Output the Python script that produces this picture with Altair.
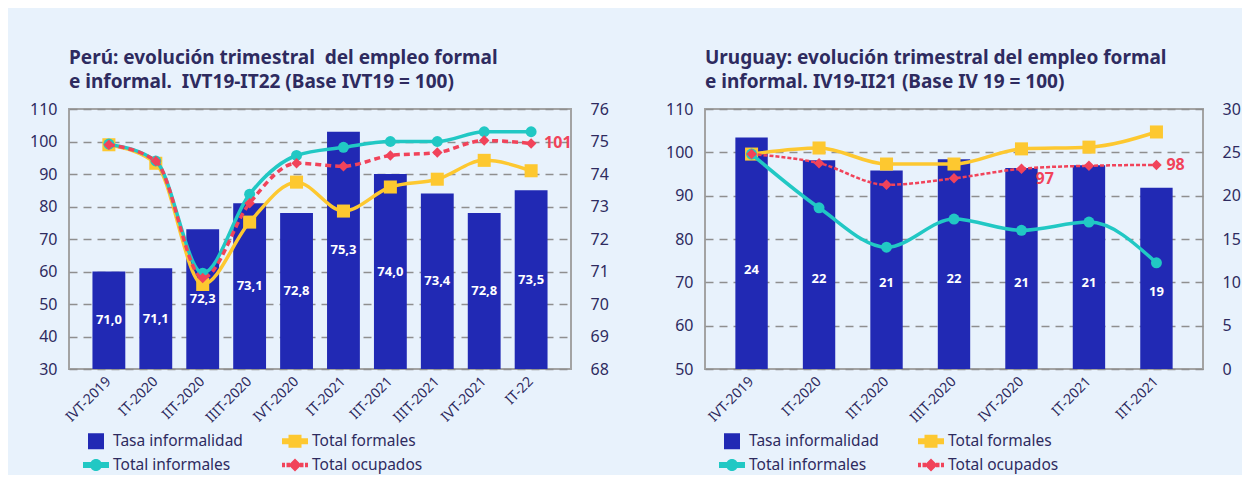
import altair as alt
import pandas as pd

FONT = "Noto Sans"
NAVY = "#2e2b5f"
BLUE = "#2129b4"
YELLOW = "#fdc830"
CYAN = "#21c8c4"
RED = "#f1435a"
BG = "#e8f2fc"
PLOT_BG = "#f4f9fe"
NB = "\u00a0"

series = ["Tasa informalidad", "Total formales", "Total informales", "Total ocupados"]
series_colors = [BLUE, YELLOW, CYAN, RED]
legend_paths = [
    "M-0.8,-0.8H0.8V0.8H-0.8Z",
    "M-1.3,-0.3H1.3V0.3H-1.3Z M-0.65,-0.65H0.65V0.65H-0.65Z",
    "M-1.3,-0.3H1.3V0.3H-1.3Z M0.6,0A0.6,0.6,0,1,1,-0.6,0A0.6,0.6,0,1,1,0.6,0Z",
    "M-1.3,-0.22H-1.0V0.22H-1.3Z M-0.85,-0.22H-0.5V0.22H-0.85Z M0.5,-0.22H0.85V0.22H0.5Z M1.0,-0.22H1.3V0.22H1.0Z M0,-0.65L0.65,0L0,0.65L-0.65,0Z",
]

# ---------------- Perú ----------------
pe_title = ["Perú: evolución trimestral" + NB + " del empleo formal",
            "e informal." + NB + " IVT19-IT22 (Base IVT19 = 100)"]
pe_cats = ["IVT-2019", "IT-2020", "IIT-2020", "IIIT-2020", "IVT-2020",
           "IT-2021", "IIT-2021", "IIIT-2021", "IVT-2021", "IT-22"]
pe_tasa = [71.0, 71.1, 72.3, 73.1, 72.8, 75.3, 74.0, 73.4, 72.8, 73.5]
pe_formales = [99.0, 93.3, 56.0, 75.2, 87.5, 78.6, 86.0, 88.4, 94.2, 91.0]
pe_informales = [99.2, 94.0, 59.5, 83.8, 95.7, 98.2, 100.0, 100.0, 103.0, 103.0]
pe_ocupados = [99.0, 94.0, 58.0, 81.0, 93.3, 92.4, 95.7, 96.6, 100.3, 99.4]
pe_note_cat = ["IT-22"]
pe_note_text = ["101"]

# ---------------- Uruguay ----------------
uy_title = ["Uruguay: evolución trimestral del empleo formal",
            "e informal. IV19-II21 (Base IV 19 = 100)"]
uy_cats = ["IVT-2019", "IT-2020", "IIT-2020", "IIIT-2020", "IVT-2020", "IT-2021", "IIT-2021"]
uy_tasa_bar = [26.7, 24.1, 22.9, 24.2, 23.2, 23.5, 20.9]
uy_tasa_label = [24, 22, 21, 22, 21, 21, 19]
uy_formales = [99.6, 101.0, 97.3, 97.3, 100.8, 101.2, 104.7]
uy_informales = [99.6, 87.2, 78.1, 84.6, 82.0, 83.9, 74.5]
uy_ocupados = [99.6, 97.5, 92.5, 94.0, 96.2, 96.9, 97.1]
uy_note_cat = ["IVT-2020", "IIT-2021"]
uy_note_text = ["97", "98"]


def xenc(cats, pin, pout):
    return alt.X("cat:N", sort=cats,
                 scale=alt.Scale(paddingInner=pin, paddingOuter=pout),
                 axis=alt.Axis(title=None, labelAngle=-45, labelAlign="right",
                               labelBaseline="middle", labelFontSize=14,
                               labelPadding=10, labelFont=FONT, labelColor=NAVY,
                               labelOverlap=False, domain=False, ticks=False))


def legend_layer():
    leg = alt.Legend(title=None, orient="none", legendX=17, legendY=322, columns=2,
                     direction="horizontal",
                     columnPadding=39, rowPadding=5, symbolSize=400, symbolStrokeWidth=0,
                     symbolOpacity=1, labelFont=FONT, labelFontSize=15.5, labelColor=NAVY,
                     labelOffset=7, padding=0, symbolLimit=0)
    df = pd.DataFrame({"serie": series})
    return alt.Chart(df).mark_point(filled=True, opacity=0).encode(
        color=alt.Color("serie:N", sort=series,
                        scale=alt.Scale(domain=series, range=series_colors), legend=leg),
        shape=alt.Shape("serie:N", sort=series,
                        scale=alt.Scale(domain=series, range=legend_paths), legend=leg),
    )


def panel(title, cats, df, notes, right_dom, right_vals, left_dom, left_vals,
          pin, pout, width, label_calc, label_pos_calc, red_width, red_dash, note_offsets):
    X = xenc(cats, pin, pout)
    yr = alt.Scale(domain=right_dom, nice=False, zero=False)
    bars = alt.Chart(df).mark_bar(color=BLUE).encode(
        x=X,
        y=alt.Y("tasa_bar:Q", scale=yr,
                axis=alt.Axis(orient="right", values=right_vals, tickCount=len(right_vals),
                              labelOverlap=False, title=None, grid=False,
                              labelFontSize=16, labelPadding=19, labelFont=FONT,
                              labelColor=NAVY, domain=False, ticks=False)),
        y2=alt.datum(right_dom[0]),
    )
    bar_text = alt.Chart(df).transform_calculate(
        lbl=label_calc, lpos=label_pos_calc
    ).mark_text(color="white", font=FONT, fontWeight="bold", fontSize=13,
                baseline="middle").encode(
        x=X, y=alt.Y("lpos:Q", scale=yr), text="lbl:N")
    right = alt.layer(bars, bar_text)

    yl = alt.Scale(domain=left_dom, nice=False, zero=False)
    yaxis = alt.Axis(orient="left", values=left_vals, tickCount=len(left_vals),
                     labelOverlap=False, title=None, grid=True,
                     gridDash=[8, 6], gridColor="#8f8f8f", gridWidth=1.5,
                     labelFontSize=16, labelPadding=12, labelFont=FONT,
                     labelColor=NAVY, domain=False, ticks=False)

    def line(field, color, shape, size, width_, dash=None):
        kw = dict(color=color, strokeWidth=width_, interpolate="monotone",
                  point=alt.OverlayMarkDef(filled=True, shape=shape, size=size,
                                           color=color, opacity=1))
        if dash:
            kw["strokeDash"] = dash
        return alt.Chart(df).mark_line(**kw).encode(
            x=X, y=alt.Y(f"{field}:Q", scale=yl, axis=yaxis))

    yel = line("formales", YELLOW, "square", 170, 3.5)
    cya = line("informales", CYAN, "circle", 120, 3.5)
    red = line("ocupados", RED, "diamond", 110, red_width, red_dash)

    note_layers = []
    for i, (dx, dy) in enumerate(note_offsets):
        nd = notes.iloc[[i]]
        note_layers.append(
            alt.Chart(nd).mark_text(color=RED, font=FONT, fontWeight="bold", fontSize=16,
                                    align="left", baseline="middle", dx=dx, dy=dy).encode(
                x=X, y=alt.Y("value:Q", scale=yl), text="text:N"))

    left = alt.layer(yel, cya, red, *note_layers, legend_layer())

    return alt.layer(right, left).resolve_scale(y="independent").properties(
        width=width, height=260,
        title=alt.TitleParams(text=title, anchor="start", frame="group", font=FONT,
                              fontSize=19, fontWeight="bold", color=NAVY,
                              lineHeight=24, offset=9))


pe_df = pd.DataFrame({"cat": pe_cats, "tasa_bar": pe_tasa, "formales": pe_formales,
                      "informales": pe_informales, "ocupados": pe_ocupados})
pe_notes = pd.DataFrame({"cat": pe_note_cat,
                         "value": [pe_ocupados[pe_cats.index(c)] for c in pe_note_cat],
                         "text": pe_note_text})
uy_df = pd.DataFrame({"cat": uy_cats, "tasa_bar": uy_tasa_bar, "tasa_label": uy_tasa_label,
                      "formales": uy_formales, "informales": uy_informales,
                      "ocupados": uy_ocupados})
uy_notes = pd.DataFrame({"cat": uy_note_cat,
                         "value": [uy_ocupados[uy_cats.index(c)] for c in uy_note_cat],
                         "text": uy_note_text})

pe = panel(pe_title, pe_cats, pe_df, pe_notes, [68, 76], list(range(68, 77)),
           [30, 110], list(range(30, 111, 10)), 0.3, 0.5, 502,
           "replace(format(datum.tasa_bar, '.1f'), '.', ',')",
           "(datum.tasa_bar + 68) / 2", 3.5, [6, 4], [(13, 0)])
uy = panel(uy_title, uy_cats, uy_df, uy_notes, [0, 30], list(range(0, 31, 5)),
           [50, 110], list(range(50, 111, 10)), 0.52, 0.45, 498,
           "'' + datum.tasa_label", "datum.tasa_label / 2 - 0.6", 2.5, [4, 2],
           [(14, 10), (10, 0)])

chart = alt.hconcat(pe, uy, spacing=54).resolve_scale(
    x="independent", y="independent", color="independent", shape="independent"
).configure(
    background=BG, padding={"left": 20, "top": 40, "right": 0, "bottom": 0}
).configure_view(stroke="#a3a3a3", strokeWidth=2, fill=PLOT_BG)

chart.save("out.html", embed_options={"renderer": "svg", "actions": False})
